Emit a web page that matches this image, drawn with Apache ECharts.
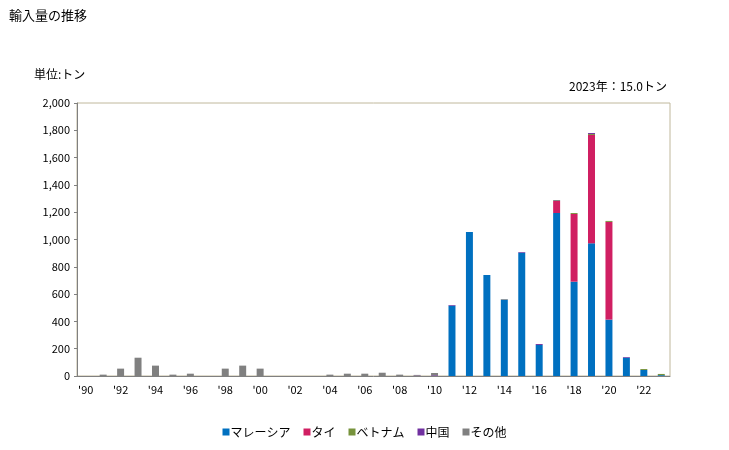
<!DOCTYPE html>
<html><head><meta charset="utf-8">
<script src="https://cdn.jsdelivr.net/npm/echarts@6/dist/echarts.min.js"></script>
<style>html,body{margin:0;padding:0;background:#fff}#c{width:729px;height:450px}</style>
</head><body><div id="c"></div>
<script>
const years = [1990,1991,1992,1993,1994,1995,1996,1997,1998,1999,2000,2001,2002,2003,2004,2005,2006,2007,2008,2009,2010,2011,2012,2013,2014,2015,2016,2017,2018,2019,2020,2021,2022,2023];
const seriesNames = ['マレーシア','タイ','ベトナム','中国','その他'];
const malaysia = [0,0,0,0,0,0,0,0,0,0,0,0,0,0,0,0,0,0,0,0,0,515,1055,740,559,903,227,1194,691,972,413,134,44,6];
const thai     = [0,0,0,0,0,0,0,0,0,0,0,0,0,0,0,0,0,0,0,0,0,0,0,0,0,0,0,88,496,794,716,0,0,0];
const vietnam  = [0,0,0,0,0,0,0,0,0,0,0,0,0,0,0,0,0,0,0,0,0,0,0,0,0,0,0,0,7,7,7,0,7,9];
const china    = [0,0,0,0,0,0,0,0,0,0,0,0,0,0,0,0,0,0,0,3,5,5,0,0,0,5,7,0,0,7,0,5,0,0];
const other    = [0,10,54,134,76,10,17,0,54,76,54,0,0,0,10,17,17,24,10,5,17,0,0,0,5,0,0,7,0,0,0,0,0,0];
const colors = ['#0070C0','#D01F62','#77933C','#7030A0','#808080'];
const yTicks = [0,200,400,600,800,1000,1200,1400,1600,1800,2000];

const chart = echarts.init(document.getElementById('c'));
const data = [malaysia, thai, vietnam, china, other];
chart.setOption({
  animation:false,
  textStyle:{fontFamily:'"Noto Sans CJK JP", "DejaVu Sans", sans-serif'},
  title:[
    {text:'輸入量の推移',left:4,top:4,textStyle:{fontSize:13,fontWeight:'normal',color:'#000'}},
    {text:'単位:トン',left:29,top:63,textStyle:{fontSize:12,fontWeight:'normal',color:'#000'}},
    {text:'2023年：15.0トン',right:57,top:75,textStyle:{fontSize:12,fontWeight:'normal',color:'#000'}}
  ],
  legend:{
    bottom:7,left:'center',itemWidth:7,itemHeight:7,itemGap:13,icon:'rect',
    textStyle:{fontSize:12,color:'#000',padding:[0,0,0,-4]},
    data:seriesNames
  },
  grid:{left:77,right:59,top:103,bottom:74,containLabel:false,show:true,borderColor:'#C0B89C',borderWidth:1},
  xAxis:{
    type:'category',data:years,
    axisLine:{lineStyle:{color:'#808080'}},
    axisTick:{show:false},
    axisLabel:{interval:1,color:'#000',fontSize:11,margin:8,
      formatter:v=>"'"+String(v).slice(2)}
  },
  yAxis:{
    type:'value',min:yTicks[0],max:yTicks[yTicks.length-1],interval:200,
    axisLine:{show:true,lineStyle:{color:'#808080'}},
    axisTick:{show:true,length:3,lineStyle:{color:'#808080'}},
    splitLine:{show:false},
    axisLabel:{color:'#000',fontSize:11,margin:7,formatter:v=>v.toLocaleString('en-US')}
  },
  series: seriesNames.map((n,i)=>({
    name:n,type:'bar',stack:'t',barWidth:'40%',data:data[i],
    itemStyle:{color:colors[i]}
  }))
});
</script></body></html>
